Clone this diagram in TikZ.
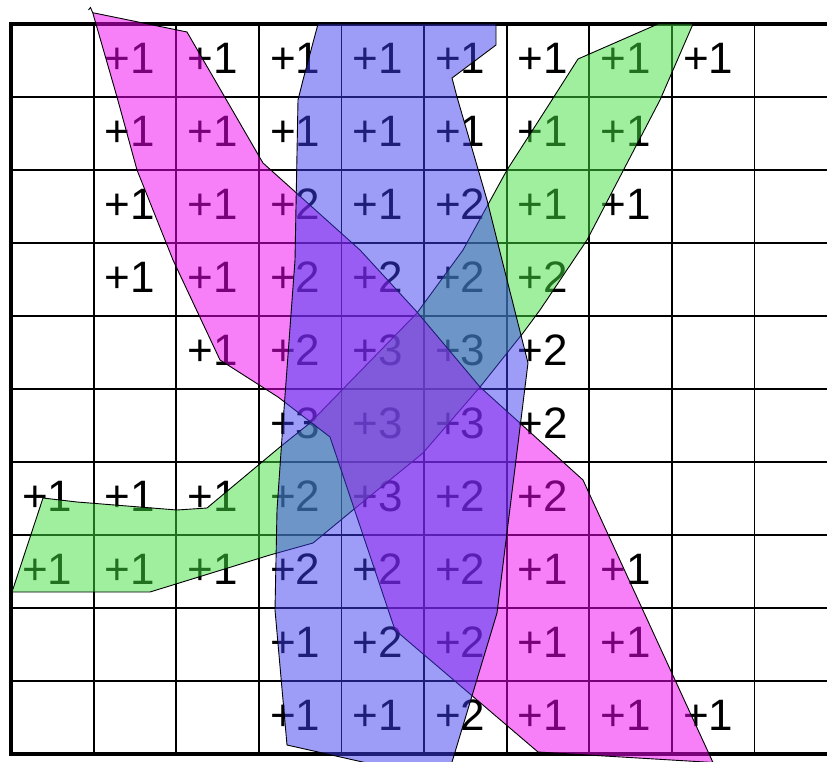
\documentclass[tikz,border=0pt]{standalone}
\usepackage{fontspec}
\setmainfont{Liberation Sans}
\definecolor{pinkc}{RGB}{240,0,240}
\definecolor{bluec}{RGB}{60,60,240}
\definecolor{greenc}{RGB}{64,224,64}
\begin{document}
\begin{tikzpicture}[x=1pt,y=-1pt,
  gridline/.style={line width=1.8pt,black},
  border/.style={line width=4.5pt,black},
  lbl/.style={inner sep=0pt,anchor=base west,font=\fontsize{44}{50}\selectfont},
  region/.style={draw=black,line width=0.9pt,fill opacity=0.5,line join=round},
]
\fill[white] (0,0) rectangle (827,762);
\useasboundingbox (0,0) rectangle (827,762);
% grid
\foreach \r in {1,...,9} \draw[gridline] (11,24+73*\r) -- (827,24+73*\r);
\foreach \c in {1,...,9} \draw[gridline] (11+82.6*\c,24) -- (11+82.6*\c,754);
\draw[border] (827,24) -- (11,24) -- (11,754) -- (827,754);
% labels
\foreach \r/\c/\t in {
 0/1/+1,0/2/+1,0/3/+1,0/4/+1,0/5/+1,0/6/+1,0/7/+1,0/8/+1,
 1/1/+1,1/2/+1,1/3/+1,1/4/+1,1/5/+1,1/6/+1,1/7/+1,
 2/1/+1,2/2/+1,2/3/+2,2/4/+1,2/5/+2,2/6/+1,2/7/+1,
 3/1/+1,3/2/+1,3/3/+2,3/4/+2,3/5/+2,3/6/+2,
 4/2/+1,4/3/+2,4/4/+3,4/5/+3,4/6/+2,
 5/3/+3,5/4/+3,5/5/+3,5/6/+2,
 6/0/+1,6/1/+1,6/2/+1,6/3/+2,6/4/+3,6/5/+2,6/6/+2,
 7/0/+1,7/1/+1,7/2/+1,7/3/+2,7/4/+2,7/5/+2,7/6/+1,7/7/+1,
 8/3/+1,8/4/+2,8/5/+2,8/6/+1,8/7/+1,
 9/3/+1,9/4/+1,9/5/+2,9/6/+1,9/7/+1,9/8/+1}
  \node[lbl] (n\r\c) at (22+82.6*\c, 73.5+73*\r) {\t};
% regions
\begin{scope}
\clip (0,0) rectangle (827,762);
\draw[region, fill=greenc] (658,24) -- (693,24) -- (660,100) -- (587,240) -- (540,310)
  -- (523,333) -- (480,387) -- (423,453) -- (353,510) -- (313,543) -- (270,555)
  -- (150,592) -- (12,592) -- (43,498) -- (77,502) -- (177,510) -- (207,508)
  -- (280,447) -- (310,423) -- (342,390) -- (417,313) -- (463,250) -- (507,170)
  -- (550,103) -- (578,59) -- cycle;
\draw[region, fill=pinkc] (92.7,12.7) -- (187,32) -- (263,163) -- (360,250) -- (417,312)
  -- (480,387) -- (583,480) -- (713,762.5) -- (538,752) -- (395,630) -- (330,437)
  -- (278,397) -- (220,360) -- (173,260) -- (137,170) -- (117,97) -- cycle;
\draw[line width=0.9pt] (92.7,12.7) -- (90.5,7.5) -- (88.5,10);
\draw[region, fill=bluec] (318,24) -- (496,24) -- (496,45) -- (452,78) -- (457,97)
  -- (487,200) -- (502,260) -- (528,363) -- (497,613) -- (449,772) -- (407,772)
  -- (287,745) -- (275,610) -- (277,510) -- (283,423) -- (295,260) -- (298,100)
  -- (303,80) -- cycle;
\end{scope}
\end{tikzpicture}
\end{document}
